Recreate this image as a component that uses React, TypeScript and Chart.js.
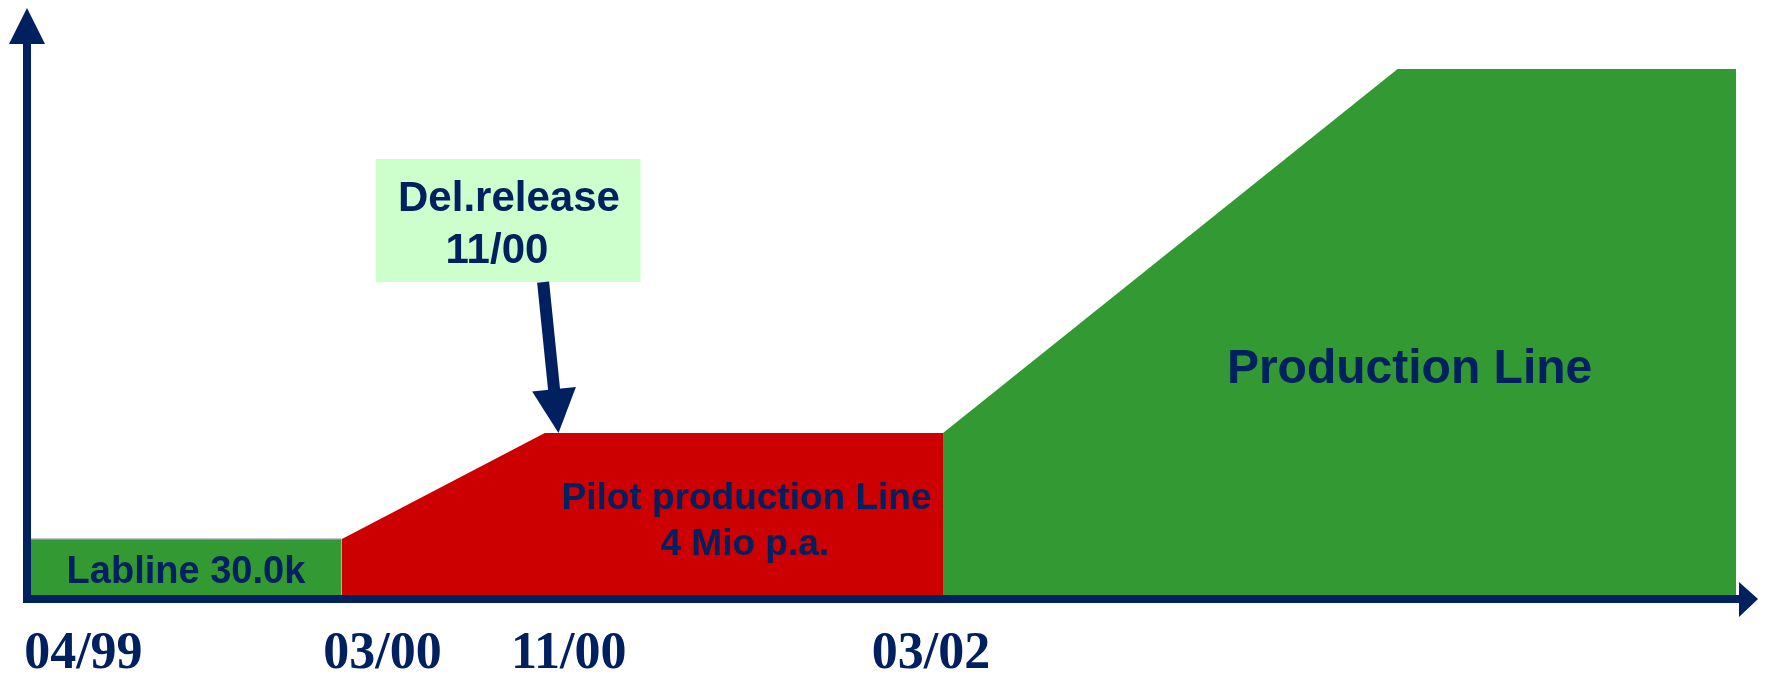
import React, { useEffect, useRef } from "react";
import { Chart, registerables } from "chart.js";

Chart.register(...registerables);

const NAVY = "#002060";
const GREEN = "#339933";
const RED = "#CC0000";
const BOX = "#CCFFCC";

// Timeline position (0-100 along the axis) and capacity level (0-100)
const labX = [0, 18.4];
const labY = [10.6, 10.6];
const pilotX = [18.4, 30.3, 53.6];
const pilotY = [10.6, 30.8, 30.8];
const prodX = [53.6, 80.2, 100];
const prodY = [30.8, 100, 100];

const tickValues = [3.3, 20.8, 31.7, 52.9];
const tickLabels = ["04/99", "03/00", "11/00", "03/02"];

const toPts = (xs: number[], ys: number[]) => xs.map((v, i) => ({ x: v, y: ys[i] }));

const decor = {
  id: "decor",
  afterDatasetsDraw(chart: any) {
    const { ctx, chartArea, scales } = chart;
    const xs = scales.x;
    const ys = scales.y;
    const px = (v: number) => xs.getPixelForValue(v);
    const py = (v: number) => ys.getPixelForValue(v);
    ctx.save();

    // axes with arrow heads
    const ax = px(0);
    const ay = py(0);
    ctx.fillStyle = NAVY;
    ctx.fillRect(ax - 4, chartArea.top - 26, 8, ay + 8 - (chartArea.top - 26));
    ctx.beginPath();
    ctx.moveTo(ax - 18, chartArea.top - 25);
    ctx.lineTo(ax + 18, chartArea.top - 25);
    ctx.lineTo(ax, chartArea.top - 61);
    ctx.closePath();
    ctx.fill();
    ctx.fillRect(ax - 4, ay, chartArea.right + 4 - (ax - 4), 8);
    ctx.beginPath();
    ctx.moveTo(chartArea.right + 3, ay - 13);
    ctx.lineTo(chartArea.right + 3, ay + 22);
    ctx.lineTo(chartArea.right + 22, ay + 4);
    ctx.closePath();
    ctx.fill();

    // Del.release box
    const bx0 = px(20.4), bx1 = px(35.9), by0 = py(82.9), by1 = py(59.5);
    ctx.fillStyle = BOX;
    ctx.fillRect(bx0, by0, bx1 - bx0, by1 - by0);

    ctx.fillStyle = NAVY;
    ctx.textAlign = "center";
    ctx.textBaseline = "alphabetic";
    ctx.font = "bold 42px 'Liberation Sans', Arial, sans-serif";
    ctx.fillText("Del.release", px(28.2), py(73.0));
    ctx.fillText("11/00", px(27.5), py(63.1));

    // arrow from box to pilot line
    const sx = px(30.2), sy = py(59.5);
    const tx = px(31.1), ty = py(30.8);
    const dx = tx - sx, dy = ty - sy;
    const len = Math.hypot(dx, dy);
    const ux = dx / len, uy = dy / len;
    const nx = uy, ny = -ux;
    const hl = 44, hw = 22;
    const bcx = tx - ux * hl, bcy = ty - uy * hl;
    ctx.strokeStyle = NAVY;
    ctx.lineWidth = 12;
    ctx.beginPath();
    ctx.moveTo(sx, sy);
    ctx.lineTo(bcx + ux * 4, bcy + uy * 4);
    ctx.stroke();
    ctx.beginPath();
    ctx.moveTo(tx, ty);
    ctx.lineTo(bcx + nx * hw, bcy + ny * hw);
    ctx.lineTo(bcx - nx * hw, bcy - ny * hw);
    ctx.closePath();
    ctx.fill();

    // area labels
    ctx.font = "bold 38px 'Liberation Sans', Arial, sans-serif";
    ctx.fillText("Labline 30.0k", px(9.3), py(2.28));
    ctx.font = "bold 37px 'Liberation Sans', Arial, sans-serif";
    ctx.fillText("Pilot production Line", px(42.1), py(16.35));
    ctx.fillText("4 Mio p.a.", px(42.0), py(7.6));
    ctx.font = "bold 48px 'Liberation Sans', Arial, sans-serif";
    ctx.fillText("Production Line", px(80.9), py(40.3));

    ctx.restore();
  },
};

export default function App() {
  const ref = useRef<HTMLCanvasElement | null>(null);

  useEffect(() => {
    document.body.style.margin = "0";
    const canvas = ref.current;
    if (!canvas) return;
    const chart = new Chart(canvas, {
      type: "line",
      data: {
        datasets: [
          {
            label: "Labline",
            data: toPts(labX, labY),
            fill: "origin",
            backgroundColor: GREEN,
            borderColor: "#8090b8",
            borderWidth: 1.5,
            pointRadius: 0,
            tension: 0,
          },
          {
            label: "Pilot production Line",
            data: toPts(pilotX, pilotY),
            fill: "origin",
            backgroundColor: RED,
            borderColor: RED,
            borderWidth: 0,
            pointRadius: 0,
            tension: 0,
          },
          {
            label: "Production Line",
            data: toPts(prodX, prodY),
            fill: "origin",
            backgroundColor: GREEN,
            borderColor: GREEN,
            borderWidth: 0,
            pointRadius: 0,
            tension: 0,
          },
        ],
      },
      options: {
        animation: false,
        responsive: false,
        maintainAspectRatio: false,
        layout: { padding: { left: 27, right: 30, top: 69, bottom: 0 } },
        plugins: { legend: { display: false }, tooltip: { enabled: false } },
        scales: {
          x: {
            type: "linear",
            min: 0,
            max: 100,
            grid: { display: false, drawTicks: false },
            border: { display: false },
            afterBuildTicks: (scale: any) => {
              scale.ticks = tickValues.map((v) => ({ value: v }));
            },
            afterFit: (scale: any) => {
              scale.height = 81;
              scale.paddingLeft = 0;
              scale.paddingRight = 0;
            },
            ticks: {
              autoSkip: false,
              maxRotation: 0,
              minRotation: 0,
              padding: 28,
              color: NAVY,
              font: { family: "'Liberation Serif', 'Times New Roman', serif", size: 52, weight: "bold" },
              callback: (_v: any, i: number) => tickLabels[i],
            },
          },
          y: {
            type: "linear",
            min: 0,
            max: 100,
            display: false,
          },
        },
      },
      plugins: [decor],
    });
    return () => chart.destroy();
  }, []);

  return (
    <div style={{ position: "absolute", left: 0, top: 0, width: 1766, height: 676, background: "#fff" }}>
      <canvas ref={ref} width={1766} height={676} style={{ width: 1766, height: 676 }} />
    </div>
  );
}
